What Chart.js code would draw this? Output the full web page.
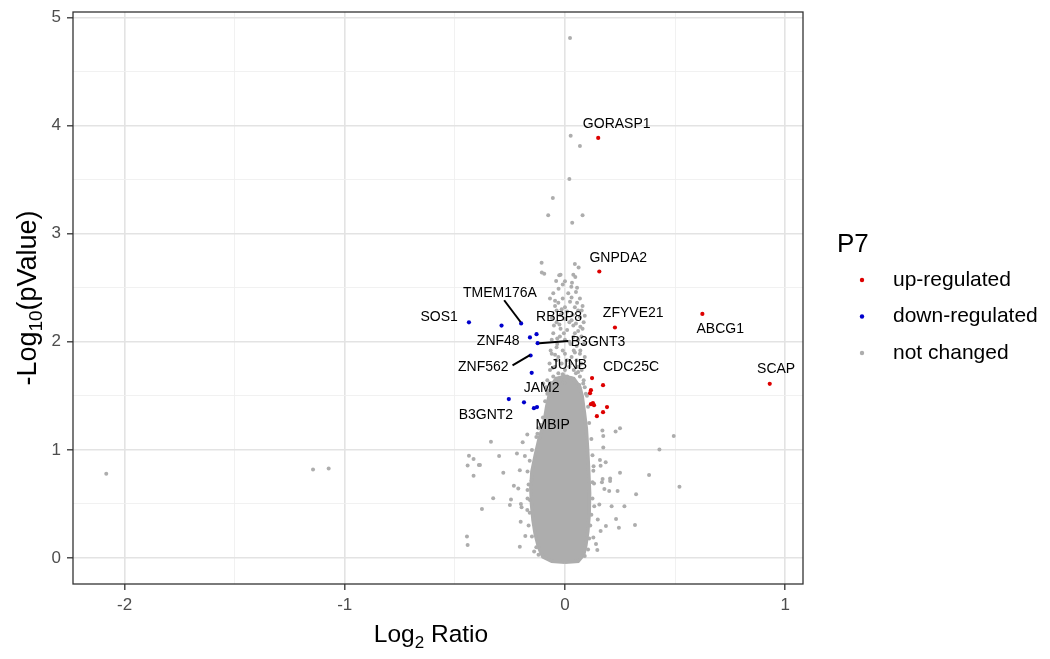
<!DOCTYPE html>
<html><head><meta charset="utf-8">
<script src="https://cdn.jsdelivr.net/npm/chart.js@4.4.1/dist/chart.umd.min.js"></script>
<style>html,body{margin:0;padding:0;background:#fff}#wrap{width:1050px;height:659px}</style>
</head><body><div id="wrap"><canvas id="c" width="1050" height="659"></canvas></div>
<script>
// ---------- data (Log2 ratio, -log10 p) ----------
const legendTitle = 'P7';
const seriesNames = ['up-regulated', 'down-regulated', 'not changed'];

const upRegulated = [
  [0.151,3.885],[0.156,2.65],[0.227,2.132],[0.624,2.258],[0.93,1.611],
  [0.123,1.664],[0.173,1.599],[0.118,1.553],[0.114,1.525],[0.127,1.433],
  [0.132,1.414],[0.191,1.396],[0.173,1.349],[0.145,1.312],[0.118,1.423]
];
const downRegulated = [
  [-0.436,2.18],[-0.288,2.15],[-0.199,2.17],[-0.129,2.07],[-0.159,2.04],
  [-0.124,1.987],[-0.156,1.873],[-0.151,1.713],[-0.255,1.47],[-0.186,1.44],
  [-0.141,1.386],[-0.127,1.396]
];
const notChanged = [
  // high outliers
  [0.023,4.81],[0.026,3.906],[0.068,3.81],[0.02,3.506],[-0.055,3.33],[-0.076,3.17],[0.08,3.17],[0.033,3.10],
  [-0.106,2.73],[-0.105,2.64],[0.045,2.72],[0.062,2.687],[-0.026,2.615],[-0.04,2.563],[0.047,2.60],
  [0.032,2.545],[0.029,2.51],[-0.029,2.49],[-0.094,2.63],[-0.02,2.62],[0.038,2.62],
  [-0.01,2.53],[0.055,2.5],[0.0,2.56],
  // upper column of the volcano
  [-0.053,2.45],[0.015,2.45],[0.05,2.46],
  [-0.068,2.40],[-0.01,2.40],[0.03,2.41],[0.068,2.40],[-0.045,2.38],[0.055,2.36],
  [0.023,2.37],[-0.03,2.36],
  [-0.045,2.33],[0.0,2.32],[0.045,2.32],[0.08,2.33],[-0.015,2.3],
  [-0.038,2.29],[0.01,2.28],[0.06,2.29],[0.076,2.29],
  [-0.02,2.25],[0.035,2.25],[0.09,2.24],
  [-0.06,2.22],[0.0,2.21],[0.068,2.23],[0.03,2.2],
  [-0.038,2.18],[0.02,2.18],[0.05,2.17],[0.085,2.18],[-0.025,2.16],
  [-0.05,2.15],[0.038,2.15],[0.07,2.14],
  [-0.02,2.12],[0.08,2.12],[0.01,2.11],[0.06,2.1],
  [-0.053,2.08],[-0.005,2.08],[0.045,2.08],
  [-0.023,2.05],[0.038,2.045],[0.075,2.05],[-0.035,2.03],
  [-0.06,2.02],[0.0,2.02],[0.06,2.02],[0.02,2.0],
  [-0.035,1.98],[0.025,1.98],[0.085,1.98],
  [-0.038,1.95],[0.053,1.96],
  [-0.065,1.92],[-0.01,1.92],[0.04,1.92],[0.07,1.92],[0.045,1.9],
  [-0.06,1.89],[0.0,1.89],[0.068,1.89],[-0.045,1.88],
  [-0.03,1.86],[0.03,1.86],[0.09,1.86],
  [-0.038,1.83],[0.053,1.83],[0.01,1.83],[0.025,1.8],
  [-0.07,1.80],[-0.015,1.80],[0.075,1.80],
  [-0.045,1.77],[0.02,1.77],[0.06,1.77],[-0.055,1.76],
  [-0.068,1.74],[0.0,1.74],[0.076,1.74],[0.04,1.74],[0.06,1.72],
  [-0.03,1.71],[0.05,1.71],[-0.01,1.7],
  [-0.053,1.68],[0.068,1.68],[0.01,1.68],[0.03,1.66],
  [-0.08,1.645],[-0.02,1.645],[0.04,1.645],[0.085,1.645],
  [-0.099,1.615],[0.083,1.615],[-0.065,1.62],[0.0,1.62],[0.065,1.6],
  [-0.085,1.58],[0.09,1.58],[-0.08,1.52],[0.095,1.52],
  // ragged edges of the dense core
  [-0.1,1.3],[-0.09,1.45],[-0.075,1.55],[-0.12,1.2],[-0.11,1.23],[-0.13,1.12],[-0.125,1.15],[-0.15,1.0],
  [-0.16,0.9],[-0.17,0.8],[-0.165,0.68],[-0.17,0.55],[-0.16,0.42],[-0.165,0.3],[-0.15,0.2],[-0.13,0.1],
  [-0.14,0.06],[-0.12,0.03],
  [0.1,1.5],[0.105,1.4],[0.11,1.25],[0.12,1.1],[0.125,0.95],[0.13,0.85],[0.125,0.7],[0.125,0.55],
  [0.12,0.4],[0.115,0.3],[0.11,0.18],[0.105,0.08],[0.09,0.02],
  // left outliers
  [-2.083,0.779],[-1.144,0.82],[-1.073,0.829],
  [-0.436,0.945],[-0.415,0.915],[-0.442,0.857],[-0.415,0.761],[-0.391,0.86],[-0.445,0.2],[-0.442,0.12],
  [-0.336,1.075],[-0.192,1.07],[-0.171,1.143],[-0.386,0.86],[-0.299,0.943],[-0.218,0.968],[-0.182,0.943],
  [-0.205,0.813],[-0.28,0.789],[-0.232,0.668],[-0.212,0.644],[-0.326,0.552],[-0.245,0.542],[-0.25,0.49],
  [-0.2,0.499],[-0.197,0.469],[-0.377,0.453],[-0.171,0.444],[-0.201,0.336],[-0.18,0.203],[-0.205,0.105],
  [-0.151,0.72],[-0.17,0.63],[-0.159,0.536],
  // right outliers
  [0.17,1.18],[0.23,1.17],[0.25,1.2],[0.174,1.128],[0.494,1.128],[0.429,1.005],[0.174,1.023],[0.159,0.906],
  [0.185,0.887],[0.162,0.853],[0.129,0.807],[0.25,0.789],[0.382,0.767],[0.205,0.736],[0.171,0.73],
  [0.205,0.712],[0.168,0.7],[0.132,0.69],[0.52,0.659],[0.179,0.638],[0.201,0.619],[0.239,0.619],
  [0.323,0.589],[0.156,0.496],[0.212,0.48],[0.27,0.48],[0.133,0.48],[0.149,0.357],[0.232,0.36],
  [0.318,0.305],[0.245,0.28],[0.186,0.296],[0.162,0.25],[0.129,0.191],[0.141,0.129],[0.147,0.074]
];
// outline of the solid, overplotted core of the volcano
const coreOutline = [
  [0.0,-0.04],[-0.06,-0.03],[-0.1,0.01],[-0.12,0.1],[-0.135,0.22],[-0.145,0.35],[-0.152,0.5],[-0.155,0.65],
  [-0.15,0.8],[-0.135,0.95],[-0.118,1.1],[-0.095,1.25],[-0.083,1.4],[-0.072,1.5],[-0.06,1.6],[-0.04,1.66],
  [0.0,1.68],[0.04,1.66],[0.068,1.58],[0.078,1.5],[0.088,1.35],[0.097,1.2],[0.103,1.0],[0.108,0.8],[0.112,0.6],
  [0.11,0.4],[0.104,0.25],[0.095,0.12],[0.085,0.03],[0.06,-0.03],[0.0,-0.04]
];
// gene labels: name, label centre (x, y), leader segments [x1,y1,x2,y2]
const geneNames = ['GORASP1','GNPDA2','TMEM176A','SOS1','RBBP8','ZFYVE21','ABCG1','ZNF48','B3GNT3','ZNF562','JUNB','CDC25C','SCAP','JAM2','B3GNT2','MBIP'];
const geneLabelX = [0.235,0.242,-0.295,-0.571,-0.027,0.31,0.705,-0.303,0.15,-0.371,0.018,0.3,0.959,-0.106,-0.359,-0.056];
const geneLabelY = [4.011,2.777,2.452,2.23,2.23,2.264,2.114,2.008,2.0,1.768,1.784,1.765,1.747,1.568,1.322,1.229];
const leaderSegments = [
  [-0.276,2.384,-0.2015,2.183],
  [-0.117,1.987,0.015,2.008],
  [-0.238,1.781,-0.159,1.876]
];
const xRange = [-2.234, 1.081];
const yRange = [-0.24, 5.05];

// ---------- styles ----------
const RED = '#DD0000', BLUE = '#0000CC', GREY = '#ADADAD';
const FONT = "Arial, 'Liberation Sans', Helvetica, sans-serif";
const toPts = a => a.map(p => ({x: p[0], y: p[1]}));
const isInt = v => Math.abs(v - Math.round(v)) < 1e-6;

const decor = {
  id: 'decor',
  afterDatasetsDraw(chart) {
    const {ctx, chartArea: a, scales: {x, y}} = chart;
    ctx.save();
    ctx.strokeStyle = '#000'; ctx.lineWidth = 2;
    leaderSegments.forEach(s => {
      ctx.beginPath();
      ctx.moveTo(x.getPixelForValue(s[0]), y.getPixelForValue(s[1]));
      ctx.lineTo(x.getPixelForValue(s[2]), y.getPixelForValue(s[3]));
      ctx.stroke();
    });
    ctx.fillStyle = '#000'; ctx.font = '14px ' + FONT;
    ctx.textAlign = 'center'; ctx.textBaseline = 'middle';
    geneNames.forEach((g, i) => {
      ctx.fillText(g, x.getPixelForValue(geneLabelX[i]), y.getPixelForValue(geneLabelY[i]));
    });
    ctx.strokeStyle = '#333333'; ctx.lineWidth = 1.3;
    ctx.strokeRect(a.left, a.top, a.right - a.left, a.bottom - a.top);
    ctx.restore();
  },
  afterDraw(chart) {
    const {ctx, chartArea: a} = chart;
    ctx.save();
    ctx.fillStyle = '#000'; ctx.textBaseline = 'alphabetic';
    const drawSub = (parts, cx, cy) => {
      let w = 0;
      parts.forEach(p => { ctx.font = p.size + 'px ' + FONT; w += ctx.measureText(p.t).width; });
      let px = cx - w / 2;
      ctx.textAlign = 'left';
      parts.forEach(p => {
        ctx.font = p.size + 'px ' + FONT;
        ctx.fillText(p.t, px, cy + p.dy);
        px += ctx.measureText(p.t).width;
      });
    };
    drawSub([{t:'Log', size:24.5, dy:0},{t:'2', size:17, dy:6},{t:' Ratio', size:24.5, dy:0}], 431, 642);
    ctx.save();
    ctx.translate(36, (a.top + a.bottom) / 2);
    ctx.rotate(-Math.PI / 2);
    drawSub([{t:'-Log', size:27, dy:0},{t:'10', size:19, dy:6},{t:'(pValue)', size:27, dy:0}], 0, 0);
    ctx.restore();
    ctx.textAlign = 'left'; ctx.textBaseline = 'middle';
    ctx.font = '26px ' + FONT;
    ctx.fillText(legendTitle, 837, 245);
    const cols = [RED, BLUE, GREY];
    seriesNames.forEach((n, i) => {
      const yy = 280 + i * 36.5;
      ctx.fillStyle = cols[i];
      ctx.beginPath(); ctx.arc(862, yy, 2.2, 0, Math.PI * 2); ctx.fill();
      ctx.fillStyle = '#000'; ctx.font = '21px ' + FONT;
      ctx.fillText(n, 893, yy);
    });
    ctx.restore();
  }
};

const gridColor = ctx => (ctx.tick && isInt(ctx.tick.value)) ? '#E3E3E3' : '#EFEFEF';
const gridWidth = ctx => (ctx.tick && isInt(ctx.tick.value)) ? 1.6 : 0.9;
const tickColor = ctx => (ctx.tick && isInt(ctx.tick.value)) ? '#333333' : 'rgba(0,0,0,0)';

new Chart(document.getElementById('c'), {
  type: 'scatter',
  data: {
    datasets: [
      {label: seriesNames[0], data: toPts(upRegulated), backgroundColor: RED, borderWidth: 0, pointRadius: 2.1},
      {label: seriesNames[1], data: toPts(downRegulated), backgroundColor: BLUE, borderWidth: 0, pointRadius: 2.1},
      {label: seriesNames[2], data: toPts(notChanged), backgroundColor: GREY, borderWidth: 0, pointRadius: 2.0},
      {label: 'core', data: toPts(coreOutline), showLine: true, fill: 'shape', tension: 0,
       backgroundColor: GREY, borderColor: GREY, borderWidth: 3.5, pointRadius: 0}
    ]
  },
  options: {
    responsive: false, animation: false, events: [],
    layout: {padding: {top: 12, right: 247, bottom: 0, left: 0}},
    plugins: {legend: {display: false}, tooltip: {enabled: false}},
    scales: {
      x: {
        type: 'linear', min: xRange[0], max: xRange[1],
        afterFit: s => { s.height = 75; s.paddingLeft = 0; s.paddingRight = 0; },
        border: {display: false},
        grid: {color: gridColor, lineWidth: gridWidth, tickColor: tickColor, tickLength: 6, tickWidth: 1.3},
        ticks: {stepSize: 0.5, includeBounds: false, autoSkip: false, maxRotation: 0, padding: 5,
                color: '#4D4D4D', font: {size: 17, family: FONT},
                callback: v => isInt(v) ? String(Math.round(v)) : ''}
      },
      y: {
        type: 'linear', min: yRange[0], max: yRange[1],
        afterFit: s => { s.width = 73; s.paddingTop = 0; s.paddingBottom = 0; },
        border: {display: false},
        grid: {color: gridColor, lineWidth: gridWidth, tickColor: tickColor, tickLength: 6, tickWidth: 1.3},
        ticks: {stepSize: 0.5, includeBounds: false, autoSkip: false, padding: 6,
                color: '#4D4D4D', font: {size: 17, family: FONT},
                callback: v => isInt(v) ? String(Math.round(v)) : ''}
      }
    }
  },
  plugins: [decor]
});
</script>
</body></html>
